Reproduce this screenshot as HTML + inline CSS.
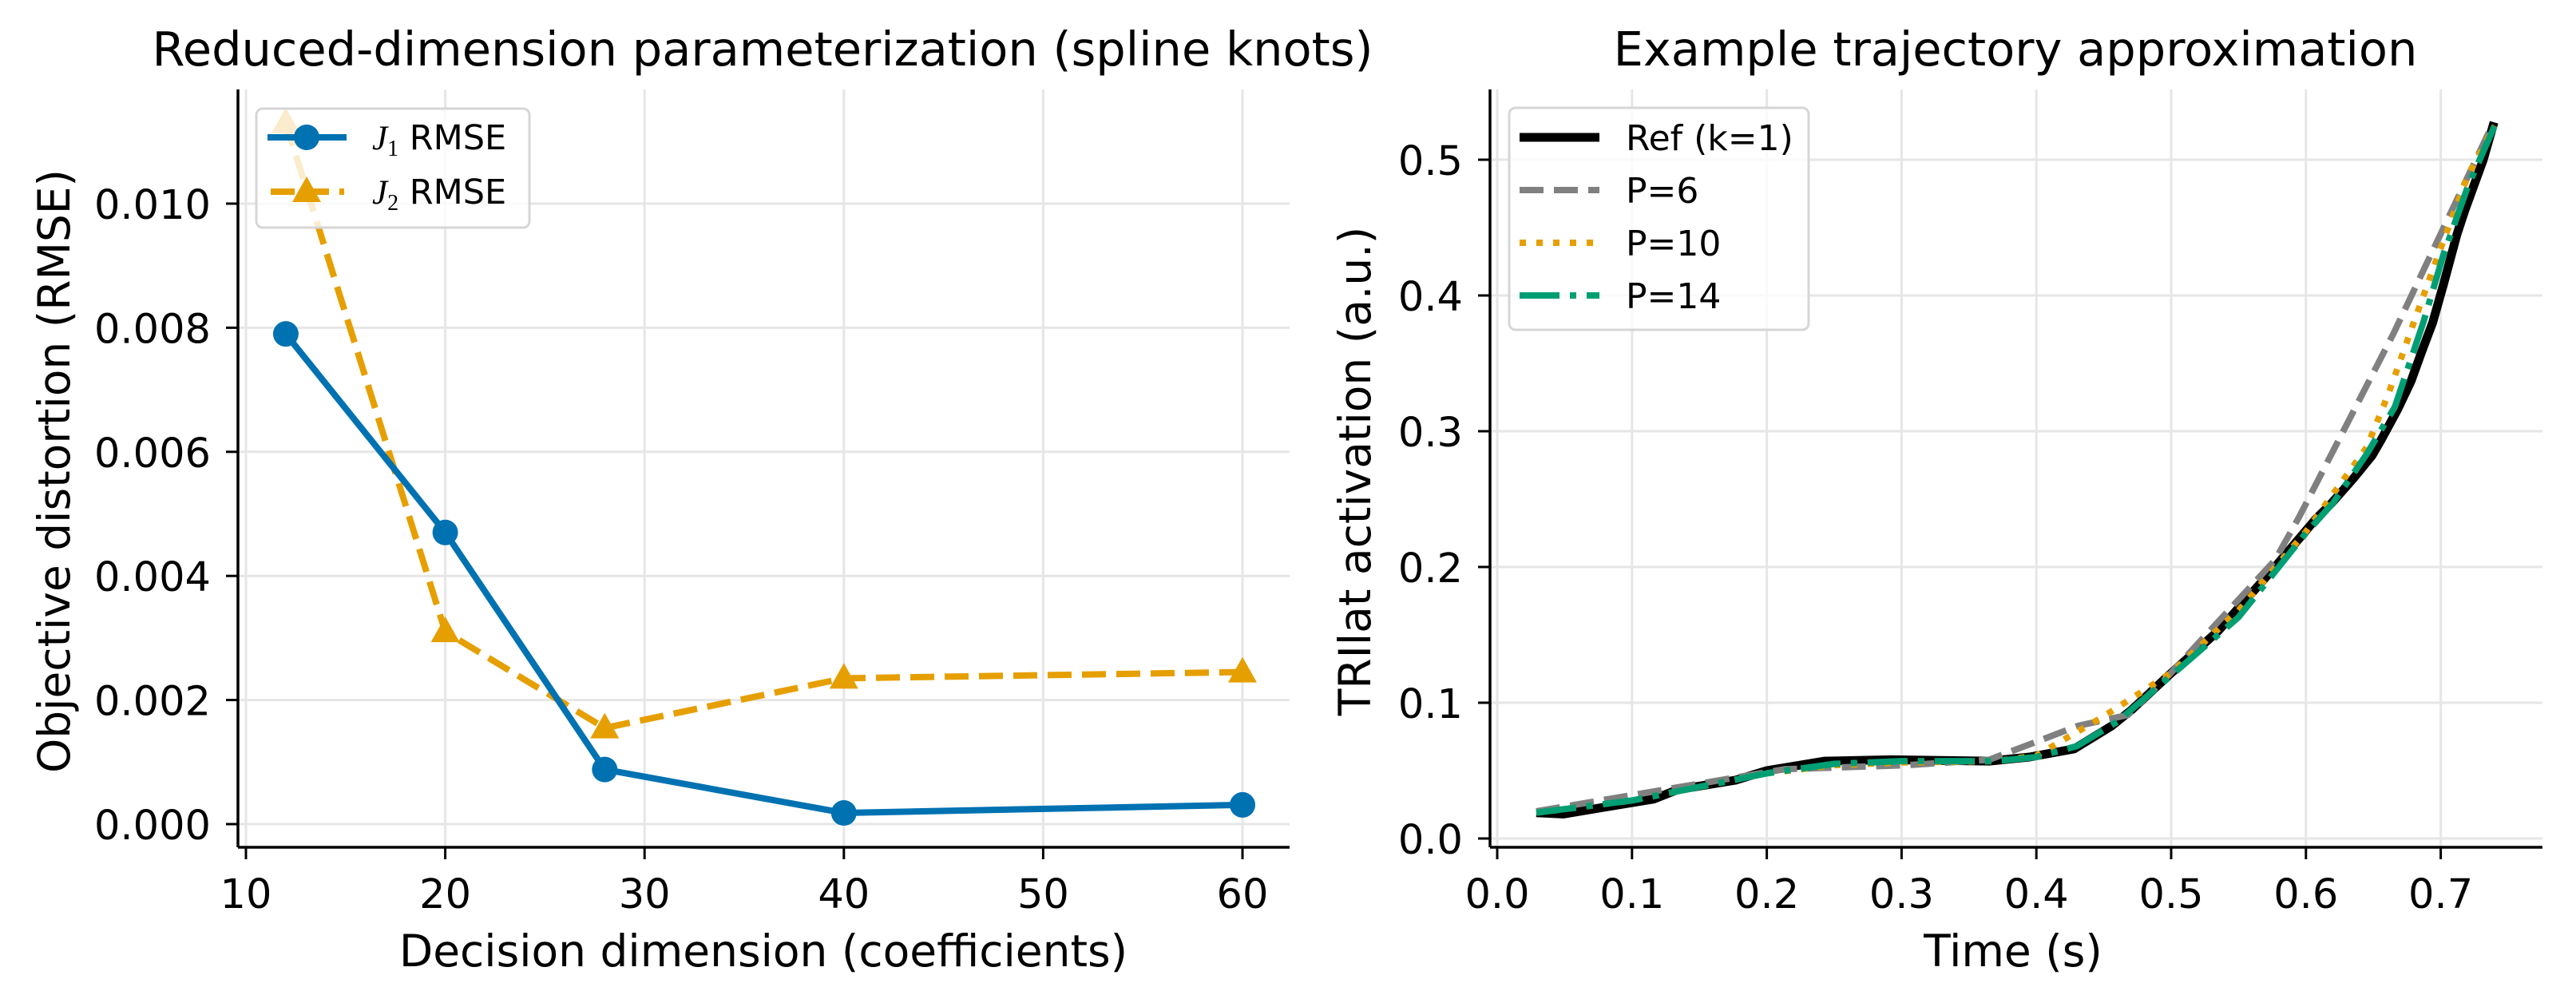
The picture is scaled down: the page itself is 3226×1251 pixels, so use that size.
<!DOCTYPE html>
<html><head><meta charset="utf-8"><style>
html,body{margin:0;padding:0;background:#fff;}
svg{display:block;font-family:"DejaVu Sans","Liberation Sans",sans-serif;}
</style></head><body>
<svg id="fig" width="3226" height="1251" viewBox="0 0 3226 1251" xmlns="http://www.w3.org/2000/svg">
<rect width="3226" height="1251" fill="#fff"/>
<g id="left"></g>
<g id="right"></g>
</svg>
<script>
// ---- Left chart data ----
const dims = [12, 20, 28, 40, 60];
const j1Rmse = [0.0079, 0.0047, 0.00088, 0.00018, 0.00031];
const j2Rmse = [0.0113, 0.0031, 0.00155, 0.00235, 0.00245];
const leftXTicks = [10, 20, 30, 40, 50, 60];
const leftYTicks = [0, 0.002, 0.004, 0.006, 0.008, 0.010];
const leftYTickLabels = ["0.000","0.002","0.004","0.006","0.008","0.010"];
// ---- Right chart data ----
const refT = [0.029,0.049,0.079,0.116,0.134,0.177,0.2,0.243,0.292,0.365,0.395,0.428,0.456,0.471,0.498,0.535,0.577,0.601,0.607,0.619,0.635,0.649,0.656,0.668,0.678,0.686,0.694,0.702,0.712,0.718,0.7316,0.7395];
const refV = [0.019,0.018,0.023,0.029,0.036,0.043,0.05,0.057,0.058,0.057,0.06,0.066,0.083,0.095,0.12,0.153,0.2,0.228,0.235,0.247,0.265,0.282,0.294,0.316,0.337,0.359,0.38,0.408,0.445,0.463,0.5,0.5276];
const p6T = [0.029,0.213,0.304,0.365,0.431,0.468,0.498,0.577,0.595,0.665,0.737];
const p6V = [0.02,0.051,0.054,0.058,0.083,0.091,0.12,0.205,0.237,0.372,0.523];
const p10T = [0.029,0.1,0.2,0.25,0.3,0.37,0.4,0.45,0.5,0.55,0.6,0.645,0.661,0.68,0.7,0.72,0.74];
const p10V = [0.019,0.028,0.048,0.054,0.056,0.057,0.061,0.09,0.122,0.168,0.226,0.288,0.327,0.38,0.435,0.488,0.525];
const p14T = [0.029,0.1,0.2,0.25,0.3,0.37,0.4,0.43,0.46,0.5,0.55,0.6,0.62,0.645,0.666,0.687,0.702,0.72,0.74];
const p14V = [0.019,0.028,0.048,0.055,0.057,0.057,0.06,0.068,0.086,0.12,0.163,0.225,0.247,0.283,0.318,0.38,0.43,0.48,0.525];
const rightXTicks = [0,0.1,0.2,0.3,0.4,0.5,0.6,0.7];
const rightXTickLabels = ["0.0","0.1","0.2","0.3","0.4","0.5","0.6","0.7"];
const rightYTicks = [0,0.1,0.2,0.3,0.4,0.5];
const rightYTickLabels = ["0.0","0.1","0.2","0.3","0.4","0.5"];

const NS="http://www.w3.org/2000/svg";
function mk(parent, tag, attrs, text){
  const e=document.createElementNS(NS,tag);
  for(const k in attrs) e.setAttribute(k,attrs[k]);
  if(text!==undefined) e.textContent=text;
  parent.appendChild(e); return e;
}
// axis functions
const lx = v => 308 + (v-10)*24.96;
const ly = v => 1032 - v*77700;
const rx = v => 1875 + v*1688;
const ry = v => 1050 - v*1700;

function axes(g, x0, x1, y0, y1, xt, xtl, xf, yt, ytl, yf){
  for(let i=0;i<xt.length;i++){
    const gl=mk(g,'line',{x1:xf(xt[i]),x2:xf(xt[i]),y1:y0,y2:y1,stroke:'#e6e6e6','stroke-width':3});
    
    
  }
  for(let i=0;i<yt.length;i++){
    const gl=mk(g,'line',{x1:x0,x2:x1,y1:yf(yt[i]),y2:yf(yt[i]),stroke:'#e6e6e6','stroke-width':3});
    
    
  }
  const sp1=mk(g,'line',{x1:x0,x2:x0,y1:y0,y2:y1,stroke:'#000','stroke-width':3.5});
  
  
  const sp2=mk(g,'line',{x1:x0,x2:x1,y1:y1,y2:y1,stroke:'#000','stroke-width':3.5});
  
  
  for(let i=0;i<xt.length;i++){
    const x=xf(xt[i]);
    const tk=mk(g,'line',{x1:x,x2:x,y1:y1,y2:y1+15,stroke:'#000','stroke-width':3});
    
    
    const t=mk(g,'text',{x:x,y:y1+76,'font-size':51,'text-anchor':'middle',fill:'#000'},xtl[i]);
    
    
  }
  for(let i=0;i<yt.length;i++){
    const y=yf(yt[i]);
    const tk=mk(g,'line',{x1:x0-15,x2:x0,y1:y,y2:y,stroke:'#000','stroke-width':3});
    
    
    const t=mk(g,'text',{x:x0-34,y:y+19,'font-size':51,'text-anchor':'end',fill:'#000'},ytl[i]);
    
    
  }
}
function pts(xs,ys,xf,yf){return xs.map((v,i)=>xf(v).toFixed(1)+','+yf(ys[i]).toFixed(1)).join(' ');}

// ---- Left ----
const L=document.getElementById('left');
axes(L,298,1615,112,1061,leftXTicks,leftXTicks.map(String),lx,leftYTicks,leftYTickLabels,ly);
const j2line=mk(L,'polyline',{points:pts(dims,j2Rmse,lx,ly),fill:'none',stroke:'#E69F00','stroke-width':8,'stroke-dasharray':'30 13'});


for(let i=0;i<dims.length;i++){
  const x=lx(dims[i]),y=ly(j2Rmse[i]);
  const m=mk(L,'polygon',{points:`${x},${y-19} ${x-18},${y+13} ${x+18},${y+13}`,fill:'#E69F00'});
  
  
}
const j1line=mk(L,'polyline',{points:pts(dims,j1Rmse,lx,ly),fill:'none',stroke:'#0072B2','stroke-width':8});


for(let i=0;i<dims.length;i++){
  const m=mk(L,'circle',{cx:lx(dims[i]),cy:ly(j1Rmse[i]),r:16,fill:'#0072B2'});
  
  
}
// left legend
const lg=mk(L,'g',{});


mk(lg,'rect',{x:321,y:136,width:342,height:149,rx:8,fill:'#fff','fill-opacity':0.8,stroke:'#d6d6d6','stroke-width':3});
mk(lg,'line',{x1:335,x2:434,y1:172,y2:172,stroke:'#0072B2','stroke-width':8});
mk(lg,'circle',{cx:384,cy:172,r:16,fill:'#0072B2'});
const le1=mk(lg,'text',{x:466,y:187,'font-size':43,fill:'#000'});


mk(le1,'tspan',{'font-family':'Liberation Serif, serif','font-style':'italic'},'J');
mk(le1,'tspan',{'font-family':'Liberation Serif, serif','font-size':28,dy:8},'1');
mk(le1,'tspan',{dy:-8},' RMSE');
mk(lg,'line',{x1:339,x2:431,y1:240,y2:240,stroke:'#E69F00','stroke-width':8,'stroke-dasharray':'30 13'});
mk(lg,'polygon',{points:'384,221 366,253 402,253',fill:'#E69F00'});
const le2=mk(lg,'text',{x:466,y:255,'font-size':43,fill:'#000'});


mk(le2,'tspan',{'font-family':'Liberation Serif, serif','font-style':'italic'},'J');
mk(le2,'tspan',{'font-family':'Liberation Serif, serif','font-size':28,dy:8},'2');
mk(le2,'tspan',{dy:-8},' RMSE');
const lt=mk(L,'text',{x:955,y:82,'font-size':59,'text-anchor':'middle',fill:'#000'},'Reduced-dimension parameterization (spline knots)');


const lxl=mk(L,'text',{x:956,y:1210,'font-size':55,'text-anchor':'middle',fill:'#000'},'Decision dimension (coefficients)');


const lyl=mk(L,'text',{x:0,y:0,'font-size':55,'text-anchor':'middle',fill:'#000',transform:'translate(87,590) rotate(-90)'},'Objective distortion (RMSE)');



// ---- Right ----
const R=document.getElementById('right');
axes(R,1866,3184,112,1061,rightXTicks,rightXTickLabels,rx,rightYTicks,rightYTickLabels,ry);
const series=[
 ['ref-line',refT,refV,{stroke:'#000','stroke-width':11}],
 ['p6-line',p6T,p6V,{stroke:'#808080','stroke-width':8,'stroke-dasharray':'30 13'}],
 ['p10-line',p10T,p10V,{stroke:'#E69F00','stroke-width':8,'stroke-dasharray':'8 13'}],
 ['p14-line',p14T,p14V,{stroke:'#009E73','stroke-width':8,'stroke-dasharray':'50 13 8 13'}]
];
for(const s of series){
  const a=Object.assign({points:pts(s[1],s[2],rx,ry),fill:'none','stroke-linejoin':'round'},s[3]);
  const p=mk(R,'polyline',a);
  
  
}
const rg=mk(R,'g',{});


mk(rg,'rect',{x:1890,y:135,width:375,height:278,rx:8,fill:'#fff','fill-opacity':0.8,stroke:'#d6d6d6','stroke-width':3});
const rows=[['Ref (k=1)',series[0][3]],['P=6',series[1][3]],['P=10',series[2][3]],['P=14',series[3][3]]];
for(let i=0;i<rows.length;i++){
  const y=172+i*66;
  mk(rg,'line',Object.assign({x1:1903,x2:2003,y1:y,y2:y},rows[i][1]));
  const t=mk(rg,'text',{x:2036,y:y+16,'font-size':44,fill:'#000'},rows[i][0]);
  
  
}
const rt=mk(R,'text',{x:2524,y:82,'font-size':59,'text-anchor':'middle',fill:'#000'},'Example trajectory approximation');


const rxl=mk(R,'text',{x:2521,y:1210,'font-size':55,'text-anchor':'middle',fill:'#000'},'Time (s)');


const ryl=mk(R,'text',{x:0,y:0,'font-size':55,'text-anchor':'middle',fill:'#000',transform:'translate(1716,590) rotate(-90)'},'TRIlat activation (a.u.)');


</script>
</body></html>
